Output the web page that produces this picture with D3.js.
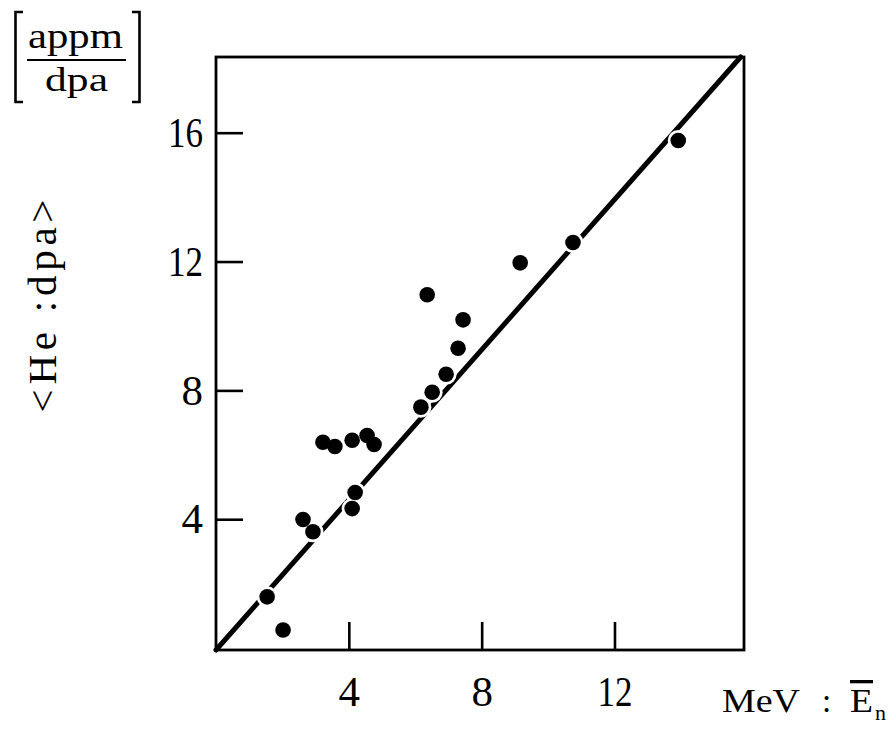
<!DOCTYPE html>
<html>
<head>
<meta charset="utf-8">
<script src="https://cdn.jsdelivr.net/npm/d3@7"></script>
<style>
  body { margin: 0; background: #fff; }
  svg text { font-family: "Liberation Serif", "Times New Roman", serif; fill: #000; }
</style>
</head>
<body>
<div id="chart"></div>
<script>
// measured points: mean neutron energy (MeV) vs He:dpa ratio (appm/dpa)
const energy = [1.54, 2.02, 2.62, 2.92, 3.22, 3.58, 4.10, 4.10, 4.19, 4.55, 4.76,
                6.17, 6.51, 6.36, 6.93, 7.29, 7.44, 9.16, 10.75, 13.92];
const heDpa  = [1.59, 0.56, 3.99, 3.61, 6.39, 6.26, 6.45, 4.33, 4.83, 6.60, 6.32,
                7.48, 7.94, 10.97, 8.50, 9.31, 10.19, 11.96, 12.59, 15.76];

// fitted line ends
const fitX = [0, 15.8];
const fitY = [-0.06, 18.35];

const xTicks = [4, 8, 12];
const yTicks = [4, 8, 12, 16];

const width = 896;
const height = 732;
const plotL = 216, plotR = 744, plotT = 57, plotB = 650;

const svg = d3.select("#chart").append("svg")
    .attr("width", width)
    .attr("height", height);

// scales
const x = d3.scaleLinear().domain([0, 15.9]).range([plotL, plotR]);
const y = d3.scaleLinear().domain([-0.06, 18.35]).range([plotB, plotT]);

// axes, ticks point inward
const xAxis = svg.append("g")
    .attr("transform", "translate(0," + plotB + ")")
    .call(d3.axisBottom(x).tickValues(xTicks).tickSize(-28).tickPadding(25).tickFormat(d3.format("d")));

const yAxis = svg.append("g")
    .attr("transform", "translate(" + plotL + ",0)")
    .call(d3.axisLeft(y).tickValues(yTicks).tickSize(-27).tickPadding(13).tickFormat(d3.format("d")));

[xAxis, yAxis].forEach(g => {
    g.select(".domain").remove();
    g.selectAll(".tick line").attr("stroke", "#000").attr("stroke-width", 2.6);
    g.selectAll(".tick text")
        .style("font-family", "'Liberation Serif', serif")
        .style("font-size", "43px")
        .each(function (d) {
            // the printed digits are narrow: squeeze two-digit labels
            if (String(d).length > 1) {
                d3.select(this).attr("textLength", 35).attr("lengthAdjust", "spacingAndGlyphs");
            }
        });
});

// frame
svg.append("rect")
    .attr("x", plotL).attr("y", plotT)
    .attr("width", plotR - plotL).attr("height", plotB - plotT)
    .attr("fill", "none")
    .attr("stroke", "#000")
    .attr("stroke-width", 2.8);

// fitted line
const line = d3.line()
    .x(d => x(d[0]))
    .y(d => y(d[1]));

svg.append("path")
    .attr("d", line(d3.zip(fitX, fitY)))
    .attr("fill", "none")
    .attr("stroke", "#000")
    .attr("stroke-width", 5)
    .attr("stroke-linecap", "round");

const pts = d3.zip(energy, heDpa);

// white halo so the line breaks around the dots
svg.append("g").selectAll("circle")
    .data(pts)
    .join("circle")
    .attr("cx", d => x(d[0]))
    .attr("cy", d => y(d[1]))
    .attr("r", 10.5)
    .attr("fill", "#fff");

svg.append("g").selectAll("circle")
    .data(pts)
    .join("circle")
    .attr("cx", d => x(d[0]))
    .attr("cy", d => y(d[1]))
    .attr("r", 7.8)
    .attr("fill", "#000");

// x label: MeV : E-bar with subscript n
const xlab = svg.append("g").style("font-size", "33px");
xlab.append("text").attr("x", 722).attr("y", 712)
    .attr("textLength", 78).attr("lengthAdjust", "spacingAndGlyphs")
    .text("MeV");
xlab.append("text").attr("x", 822).attr("y", 712).text(":");
xlab.append("text").attr("x", 850).attr("y", 712)
    .attr("textLength", 23).attr("lengthAdjust", "spacingAndGlyphs")
    .style("text-decoration", "overline")
    .text("E");
xlab.append("text").attr("x", 875).attr("y", 720)
    .style("font-size", "22px")
    .text("n");

// y label
svg.append("text")
    .attr("transform", "translate(56,306) rotate(-90)")
    .attr("text-anchor", "middle")
    .attr("textLength", 213)
    .attr("lengthAdjust", "spacing")
    .style("font-size", "41px")
    .text("<He :dpa>");

// units [appm / dpa]
const u = svg.append("g");
u.append("text")
    .attr("x", 28).attr("y", 48)
    .attr("textLength", 95)
    .attr("lengthAdjust", "spacingAndGlyphs")
    .style("font-size", "36px")
    .text("appm");
u.append("text")
    .attr("x", 45).attr("y", 91)
    .attr("textLength", 63)
    .attr("lengthAdjust", "spacingAndGlyphs")
    .style("font-size", "34px")
    .text("dpa");
u.append("line")
    .attr("x1", 27).attr("x2", 126)
    .attr("y1", 60).attr("y2", 60)
    .attr("stroke", "#000").attr("stroke-width", 2.2);
u.append("path")
    .attr("d", "M23,12 H15.5 V102 H23")
    .attr("fill", "none").attr("stroke", "#000").attr("stroke-width", 2.6);
u.append("path")
    .attr("d", "M132,12 H139.5 V102 H132")
    .attr("fill", "none").attr("stroke", "#000").attr("stroke-width", 2.6);
</script>
</body>
</html>
